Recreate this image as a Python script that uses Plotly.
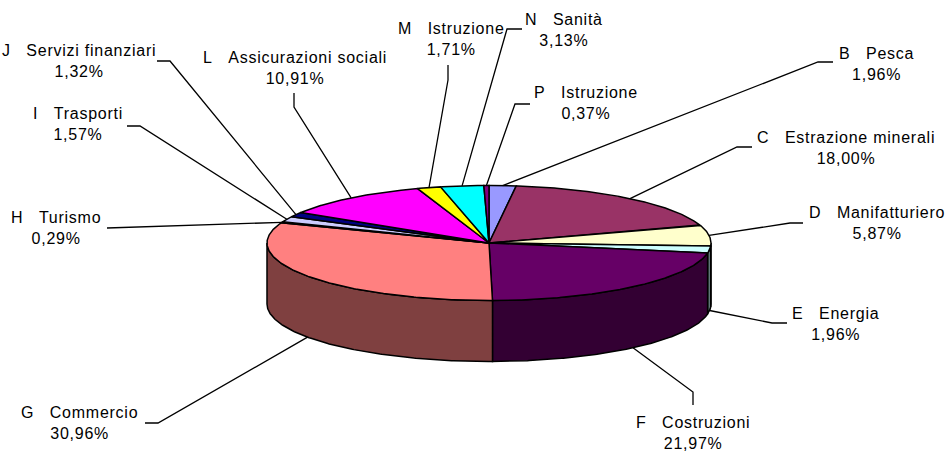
import numpy as np
import plotly.graph_objects as go

# ---- data ----
codes = ["B", "C", "D", "E", "F", "G", "H", "I", "J", "L", "M", "N", "P"]
names = ["Pesca", "Estrazione minerali", "Manifatturiero", "Energia", "Costruzioni",
         "Commercio", "Turismo", "Trasporti", "Servizi finanziari",
         "Assicurazioni sociali", "Istruzione", "Sanità", "Istruzione"]
values = [1.96, 18.00, 5.87, 1.96, 21.97, 30.96, 0.29, 1.57, 1.32, 10.91, 1.71, 3.13, 0.37]

# ---- style ----
colors = ["#9999FF", "#993366", "#FFFFCC", "#CCFFFF", "#660066", "#FF8080", "#0066CC",
          "#CCCCFF", "#000080", "#FF00FF", "#FFFF00", "#00FFFF", "#800080"]

# ---- layout (pixel-space geometry of the tilted pie and its labels) ----
W, H = 949, 453
CX, CY, RX, RY, DEPTH = 489, 243, 222, 57.5, 61
# label block centre, label-side end of leader, elbow of leader
label_pos = [(876, 63.5), (846, 147.5), (877, 223), (835, 324), (693, 432.5), (79, 422.5),
             (56, 228), (78, 124), (79, 61), (295, 68), (451, 39), (564, 30), (586, 103)]
leader_anchor = [(833, 62), (752, 147), (803, 223), (787, 323), (693, 405), (145, 423),
                 (107, 228), (127, 126), (157, 61), (294, 93), (448, 65), (522, 29), (530, 104)]
leader_elbow = [(818, 62), (737, 147), (790, 223), (772, 323), (693, 392), (158, 423),
                (107, 228), (140, 126), (170, 61), (294, 107), (448, 80), (507, 29), (515, 104)]


def pt(deg, dy=0.0):
    r = np.radians(deg)
    return CX + RX * np.sin(r), CY - RY * np.cos(r) + dy


def darker(hexcol, f=0.5):
    h = hexcol.lstrip("#")
    r, g, b = (int(h[i:i + 2], 16) for i in (0, 2, 4))
    return f"rgb({int(r * f)},{int(g * f)},{int(b * f)})"


total = sum(values)
bounds = np.concatenate([[0], np.cumsum(values)]) / total * 360.0

fig = go.Figure()

# side walls (front half only: 90..270 degrees)
for i, v in enumerate(values):
    a0, a1 = max(bounds[i], 90.0), min(bounds[i + 1], 270.0)
    if a1 <= a0:
        continue
    t = np.linspace(a0, a1, max(4, int((a1 - a0) * 2)))
    xt, yt = pt(t)
    xb, yb = pt(t[::-1], DEPTH)
    xs = np.concatenate([xt, xb, xt[:1]])
    ys = np.concatenate([yt, yb, yt[:1]])
    fig.add_trace(go.Scatter(x=xs, y=ys, mode="lines", fill="toself",
                             fillcolor=darker(colors[i]),
                             line=dict(color="black", width=1.5),
                             hoverinfo="skip", showlegend=False))

# top faces
for i, v in enumerate(values):
    a0, a1 = bounds[i], bounds[i + 1]
    t = np.linspace(a0, a1, max(4, int((a1 - a0) * 2)))
    xa, ya = pt(t)
    xs = np.concatenate([[CX], xa, [CX]])
    ys = np.concatenate([[CY], ya, [CY]])
    fig.add_trace(go.Scatter(x=xs, y=ys, mode="lines", fill="toself",
                             fillcolor=colors[i],
                             line=dict(color="black", width=1.5),
                             hoverinfo="skip", showlegend=False))

# leader lines and labels
NB = "\u00a0"
for i, v in enumerate(values):
    mid = (bounds[i] + bounds[i + 1]) / 2
    dy = DEPTH if 90 < mid < 270 else 0
    sx, sy = pt(mid, dy)
    ax, ay = leader_anchor[i]
    ex, ey = leader_elbow[i]
    fig.add_trace(go.Scatter(x=[ax, ex, sx], y=[ay, ey, sy], mode="lines",
                             line=dict(color="black", width=1.3),
                             hoverinfo="skip", showlegend=False))
    pct = f"{v:.2f}".replace(".", ",") + "%"
    lx, ly = label_pos[i]
    txt = (f'<span style="letter-spacing:0.75px">{codes[i]}{NB * 3}{names[i]}</span>'
           f'<br><span style="letter-spacing:0.75px">{pct}</span>')
    fig.add_annotation(x=lx, y=ly, xref="x", yref="y",
                       text=txt,
                       showarrow=False, xanchor="center", yanchor="middle",
                       align="center",
                       font=dict(family="Arial, Liberation Sans, sans-serif",
                                 size=16, color="black"))

fig.update_layout(
    width=W, height=H,
    margin=dict(l=0, r=0, t=0, b=0),
    paper_bgcolor="white", plot_bgcolor="white",
    xaxis=dict(range=[0, W], visible=False, fixedrange=True),
    yaxis=dict(range=[H, 0], visible=False, fixedrange=True),
    showlegend=False,
    hovermode=False,
)

fig.write_html("out.html",
               config={"displayModeBar": False, "staticPlot": True},
               post_script="document.body.style.margin='0';document.body.style.overflow='hidden';")
